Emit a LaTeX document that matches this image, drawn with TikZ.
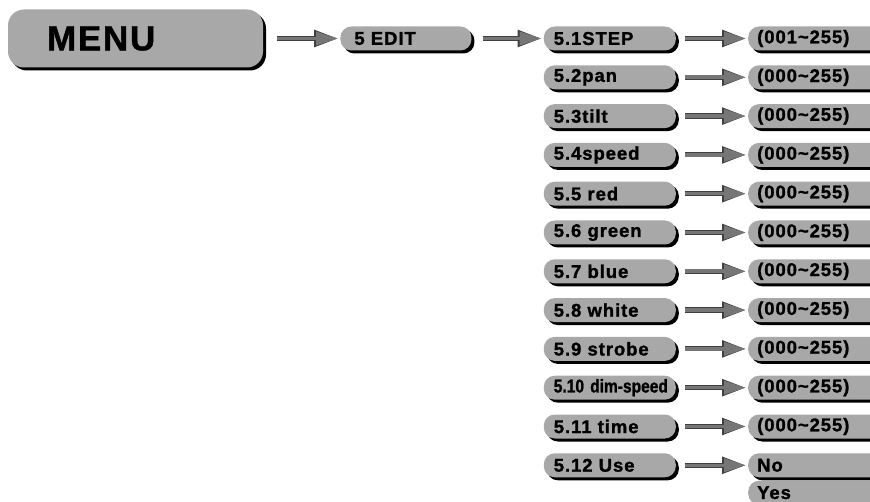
\documentclass[tikz,border=0pt]{standalone}
\usepackage{fontspec}
\usepackage{xcolor}
\usepackage{tikz}
\usetikzlibrary{
    arrows.meta,
    positioning,
    shadows
}

\newfontfamily\boxfont{Liberation Sans}[LetterSpace=5, FakeBold=1.2]
\newfontfamily\narrowfont{Liberation Sans}[FakeStretch=0.84, FakeBold=1.2]

\definecolor{boxgray}{RGB}{168,168,168}
\definecolor{arrowgray}{RGB}{118,118,118}
\definecolor{arrowedge}{RGB}{64,64,64}

\begin{document}
\begin{tikzpicture}[
        x=1pt, y=-1pt,
        node distance=14.4pt and 72pt,
        item/.style={
            rectangle,
            rounded corners=11pt,
            fill=boxgray,
            drop shadow={shadow xshift=3pt, shadow yshift=-3pt,
                fill=black, opacity=1},
            minimum height=24pt,
            inner ysep=0pt,
            inner xsep=10pt,
            text width=112pt,
            align=left,
            font=\boxfont\bfseries\fontsize{18.5}{20}\selectfont
        },
        menubox/.style={
            item,
            rounded corners=16pt,
            minimum height=58pt,
            inner xsep=39pt,
            text width=177pt,
            font=\boxfont\bfseries\fontsize{35}{37}\selectfont
        },
        editbox/.style={item, inner xsep=14pt, text width=103pt},
        valbox/.style={item, inner xsep=9pt, text width=150pt},
        flow/.style={
            draw=arrowgray,
            line width=3.6pt,
            -{Triangle[length=22pt, width=13pt]},
            shorten <=9pt,
            shorten >=2pt,
            preaction={draw=arrowedge, line width=5.2pt,
                -{Triangle[length=24pt, width=16pt]}}
        }
    ]

    \useasboundingbox (0,0) rectangle (870,502);
    \clip (0,0) rectangle (870,502);

    \node[menubox] at (135.5,38.5) (menu) {MENU};
    \node[editbox, right=77pt of menu] (edit) {5 EDIT};
    \node[item, right=of edit] (s1) {5.1STEP};
    \node[item, below=of s1] (s2) {5.2pan};
    \node[item, below=of s2] (s3) {5.3tilt};
    \node[item, below=of s3] (s4) {5.4speed};
    \node[item, below=of s4] (s5) {5.5 red};
    \node[item, below=of s5] (s6) {5.6 green};
    \node[item, below=of s6] (s7) {5.7 blue};
    \node[item, below=of s7] (s8) {5.8 white};
    \node[item, below=of s8] (s9) {5.9 strobe};
    \node[item, below=of s9] (s10) {\mbox{\narrowfont 5.10 dim-speed}};
    \node[item, below=of s10] (s11) {5.11 time};
    \node[item, below=of s11] (s12) {5.12 Use};

    % value ranges
    \node[valbox, right=of s1] (v1) {(001\char`\~255)};
    \node[valbox, right=of s2] (v2) {(000\char`\~255)};
    \node[valbox, right=of s3] (v3) {(000\char`\~255)};
    \node[valbox, right=of s4] (v4) {(000\char`\~255)};
    \node[valbox, right=of s5] (v5) {(000\char`\~255)};
    \node[valbox, right=of s6] (v6) {(000\char`\~255)};
    \node[valbox, right=of s7] (v7) {(000\char`\~255)};
    \node[valbox, right=of s8] (v8) {(000\char`\~255)};
    \node[valbox, right=of s9] (v9) {(000\char`\~255)};
    \node[valbox, right=of s10] (v10) {(000\char`\~255)};
    \node[valbox, right=of s11] (v11) {(000\char`\~255)};
    \node[valbox, right=of s12] (no) {No};
    \node[valbox, below=3pt of no] (yes) {Yes};

    \draw[flow, shorten <=14pt] (menu) -- (edit);
    \draw[flow, shorten <=11pt] (edit) -- (s1);
    \draw[flow] (s1) -- (v1);
    \draw[flow] (s2) -- (v2);
    \draw[flow] (s3) -- (v3);
    \draw[flow] (s4) -- (v4);
    \draw[flow] (s5) -- (v5);
    \draw[flow] (s6) -- (v6);
    \draw[flow] (s7) -- (v7);
    \draw[flow] (s8) -- (v8);
    \draw[flow] (s9) -- (v9);
    \draw[flow] (s10) -- (v10);
    \draw[flow] (s11) -- (v11);
    \draw[flow] (s12) -- (no);

\end{tikzpicture}
\end{document}
